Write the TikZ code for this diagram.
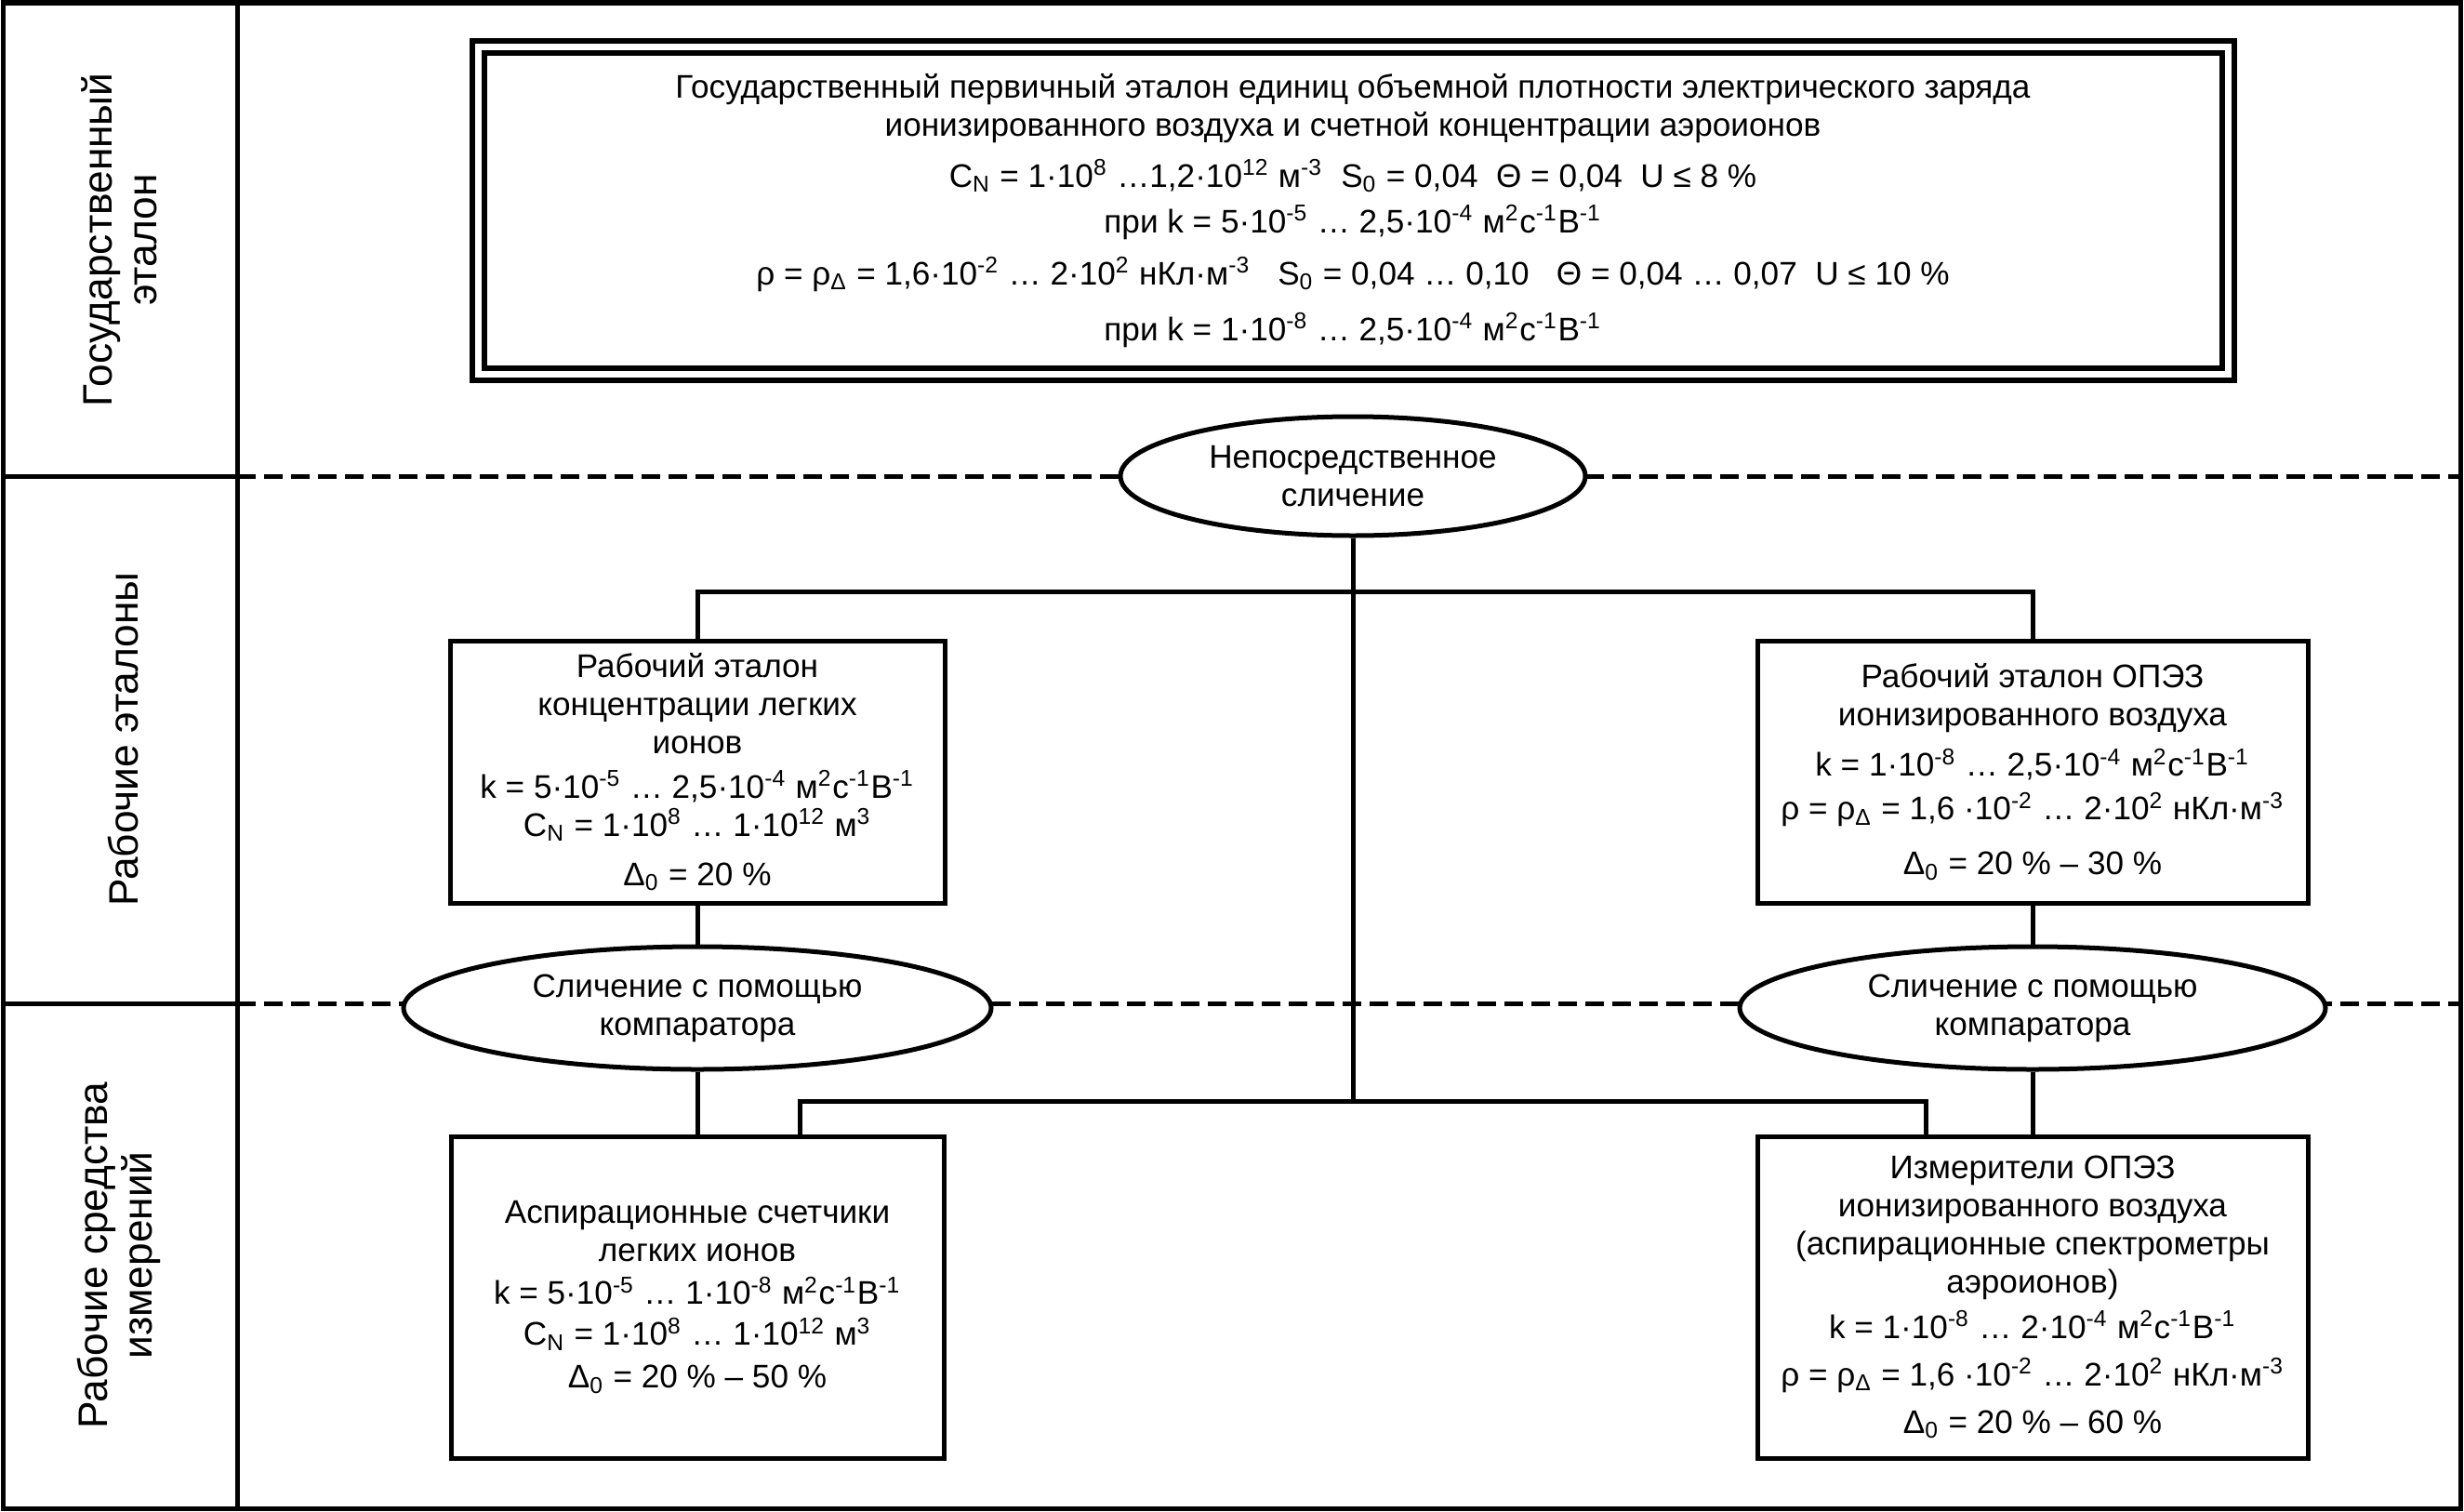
\documentclass[tikz,border=0pt]{standalone}
\usepackage{fontspec}
\setmainfont{Liberation Sans}
\usetikzlibrary{shapes.geometric}
\newcommand{\hi}[1]{\textsuperscript{#1}}
\newcommand{\lo}[1]{\textsubscript{#1}}
\lineskiplimit=-50pt

\begin{document}
\begin{tikzpicture}[x=1cm,y=-1cm,line width=0.05cm,
        font=\fontsize{10pt}{0.41cm}\selectfont,
        box/.style={draw,rectangle,align=center,inner sep=0pt},
        oval/.style={draw,ellipse,fill=white,align=center,inner sep=0pt,minimum height=1.32cm},
        side/.style={rotate=90,align=center,font=\fontsize{12.6pt}{0.48cm}\selectfont},
        sep/.style={dash pattern=on 0.2cm off 0.09cm},
    ]
    \useasboundingbox (0,0) rectangle (26.5,16.25);
    % frame and levels
    \draw (0.04,0.03) rectangle (26.46,16.22);
    \draw (2.55,0.03) -- (2.55,16.22);
    \draw (0.04,5.12) -- (2.55,5.12);
    \draw (0.04,10.79) -- (2.55,10.79);
    \draw[sep] (2.55,5.12) -- (26.46,5.12);
    \draw[sep] (2.55,10.79) -- (26.46,10.79);

    \node[side] (lvlA) at (1.28,2.58) {Государственный\\эталон};
    \node[side] (lvlB) at (1.32,7.95) {Рабочие эталоны};
    \node[side] (lvlC) at (1.28,13.50) {Рабочие средства\\измерений};

    % state standard
    \node[box,double,line width=0.06cm,double distance=0.07cm,
        minimum width=18.82cm,minimum height=3.52cm] (gos) at (14.55,2.265)
        {Государственный первичный эталон единиц объемной плотности электрического заряда\\
        ионизированного воздуха и счетной концентрации аэроионов\\[0.14cm]
        C\lo{N} = 1·10\hi{8} …1,2·10\hi{12} м\hi{-3}~~S\lo{0} = 0,04~~Θ = 0,04~~U ≤ 8 \%\\[0.08cm]
        при k = 5·10\hi{-5} … 2,5·10\hi{-4} м\hi{2}с\hi{-1}В\hi{-1}\\[0.15cm]
        ρ = ρ\lo{Δ} = 1,6·10\hi{-2} … 2·10\hi{2} нКл·м\hi{-3}~~~S\lo{0} = 0,04 … 0,10~~~Θ = 0,04 … 0,07~~U ≤ 10 \%\\[0.19cm]
        при k = 1·10\hi{-8} … 2,5·10\hi{-4} м\hi{2}с\hi{-1}В\hi{-1}};

    % working standards
    \node[box,minimum width=5.32cm,minimum height=2.82cm] (rabL) at (7.50,8.30)
        {Рабочий эталон\\концентрации легких\\ионов\\[0.07cm]
        k = 5·10\hi{-5} … 2,5·10\hi{-4} м\hi{2}с\hi{-1}В\hi{-1}\\
        C\lo{N} = 1·10\hi{8} … 1·10\hi{12} м\hi{3}\\[0.12cm]
        Δ\lo{0} = 20 \%};
    \node[box,minimum width=5.92cm,minimum height=2.82cm] (rabR) at (21.86,8.30)
        {Рабочий эталон ОПЭЗ\\ионизированного воздуха\\[0.13cm]
        k = 1·10\hi{-8} … 2,5·10\hi{-4} м\hi{2}с\hi{-1}В\hi{-1}\\[0.06cm]
        ρ = ρ\lo{Δ} = 1,6 ·10\hi{-2} … 2·10\hi{2} нКл·м\hi{-3}\\[0.18cm]
        Δ\lo{0} = 20 \% – 30 \%};

    % working instruments
    \node[box,minimum width=5.30cm,minimum height=3.46cm] (sredL) at (7.50,13.95)
        {Аспирационные счетчики\\легких ионов\\[0.05cm]
        k = 5·10\hi{-5} … 1·10\hi{-8} м\hi{2}с\hi{-1}В\hi{-1}\\[0.03cm]
        C\lo{N} = 1·10\hi{8} … 1·10\hi{12} м\hi{3}\\[0.05cm]
        Δ\lo{0} = 20 \% – 50 \%};
    \node[box,minimum width=5.92cm,minimum height=3.46cm] (sredR) at (21.86,13.95)
        {Измерители ОПЭЗ\\ионизированного воздуха\\(аспирационные спектрометры\\аэроионов)\\[0.08cm]
        k = 1·10\hi{-8} … 2·10\hi{-4} м\hi{2}с\hi{-1}В\hi{-1}\\[0.1cm]
        ρ = ρ\lo{Δ} = 1,6 ·10\hi{-2} … 2·10\hi{2} нКл·м\hi{-3}\\[0.1cm]
        Δ\lo{0} = 20 \% – 60 \%};

    % comparisons
    \node[oval,minimum width=5.0cm,minimum height=1.28cm] (slich) at (14.55,5.12)
        {Непосредственное\\сличение};
    \node[oval,minimum width=6.32cm] (kompL) at (7.50,10.84)
        {Сличение с помощью\\компаратора};
    \node[oval,minimum width=6.30cm] (kompR) at (21.86,10.84)
        {Сличение с помощью\\компаратора};

    \coordinate (topbar) at (14.55,6.36);
    \coordinate (lowbar) at (14.55,11.84);

    \draw (slich.south) -- (lowbar);
    \draw (rabL.north) |- (topbar) -| (rabR.north);
    \draw ([xshift=1.10cm]sredL.north) |- (lowbar) -| ([xshift=-1.15cm]sredR.north);
    \draw (rabL) -- (kompL) -- (sredL);
    \draw (rabR) -- (kompR) -- (sredR);
\end{tikzpicture}
\end{document}
